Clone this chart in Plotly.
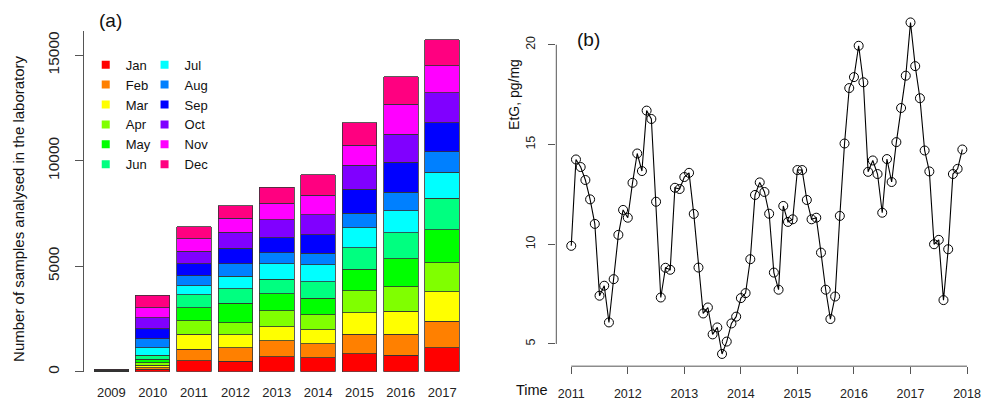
import plotly.graph_objects as go

# ---------------- data: panel (a) ----------------
years = ["2009", "2010", "2011", "2012", "2013", "2014", "2015", "2016", "2017"]
months = ["Jan", "Feb", "Mar", "Apr", "May", "Jun", "Jul", "Aug", "Sep", "Oct", "Nov", "Dec"]
month_colors = ["#FF0000", "#FF8000", "#FFFF00", "#80FF00", "#00FF00", "#00FF80",
                "#00FFFF", "#0080FF", "#0000FF", "#8000FF", "#FF00FF", "#FF0080"]

# monthly sample counts per year (Jan..Dec)
s2009 = [0, 0, 0, 0, 0, 15, 15, 15, 15, 15, 15, 15]
s2010 = [110, 80, 120, 110, 160, 200, 345, 443, 472, 519, 471, 595]
s2011 = [509, 552, 722, 632, 613, 614, 438, 472, 566, 599, 594, 552]
s2012 = [495, 628, 632, 566, 910, 708, 580, 585, 754, 755, 661, 594]
s2013 = [717, 755, 660, 745, 816, 694, 731, 519, 721, 835, 779, 764]
s2014 = [670, 660, 661, 707, 783, 774, 802, 547, 882, 957, 930, 957]
s2015 = [858, 911, 1028, 1047, 1014, 1019, 939, 698, 1142, 1132, 943, 1071]
s2016 = [778, 991, 1099, 1151, 1321, 1254, 1038, 868, 1415, 1335, 1429, 1293]
s2017 = [1132, 1264, 1387, 1368, 1585, 1481, 1226, 972, 1387, 1429, 1274, 1236]
samples_by_year = [s2009, s2010, s2011, s2012, s2013, s2014, s2015, s2016, s2017]
y_ticks_a = [0, 5000, 10000, 15000]

# ---------------- data: panel (b) ----------------
etg_2011 = [9.92, 14.25, 13.87, 13.22, 12.25, 11.02, 7.42, 7.92, 6.08, 8.25, 10.47, 11.72]
etg_2012 = [11.33, 13.08, 14.55, 13.67, 16.70, 16.28, 12.13, 7.33, 8.82, 8.72, 12.83, 12.77]
etg_2013 = [13.37, 13.58, 11.52, 8.83, 6.53, 6.83, 5.48, 5.83, 4.50, 5.12, 6.03, 6.37]
etg_2014 = [7.30, 7.55, 9.25, 12.47, 13.10, 12.62, 11.53, 8.58, 7.72, 11.92, 11.12, 11.25]
etg_2015 = [13.72, 13.72, 12.22, 11.25, 11.33, 9.58, 7.72, 6.25, 7.38, 11.42, 15.05, 17.83]
etg_2016 = [18.38, 19.95, 18.12, 13.63, 14.20, 13.52, 11.58, 14.27, 13.12, 15.12, 16.83, 18.45]
etg_2017 = [21.12, 18.93, 17.32, 14.70, 13.65, 10.00, 10.22, 7.20, 9.75, 13.52, 13.78, 14.75]
etg_years = [2011, 2012, 2013, 2014, 2015, 2016, 2017]
etg_by_year = [etg_2011, etg_2012, etg_2013, etg_2014, etg_2015, etg_2016, etg_2017]
x_ticks_b = [2011, 2012, 2013, 2014, 2015, 2016, 2017, 2018]
y_ticks_b = [5, 10, 15, 20]

etg_time = []
etg_vals = []
for yr, vals in zip(etg_years, etg_by_year):
    for m, v in enumerate(vals):
        etg_time.append(yr + m / 12.0)
        etg_vals.append(v)

SANS = "Liberation Sans, Arial, sans-serif"
W, H = 985, 403

def px(x):
    return x / W

def py(y):
    return (H - y) / H

fig = go.Figure()

for m, month in enumerate(months):
    fig.add_trace(go.Bar(
        x=years, y=[yr[m] for yr in samples_by_year], name=month,
        marker=dict(color=month_colors[m], line=dict(color="#333333", width=0.8)),
        width=0.836, showlegend=False, xaxis="x", yaxis="y"))

for m, month in enumerate(months):
    fig.add_trace(go.Scatter(
        x=[None], y=[None], mode="markers", name=month,
        marker=dict(symbol="square", size=8, color=month_colors[m]),
        legend="legend" if m < 6 else "legend2", xaxis="x", yaxis="y"))

fig.add_trace(go.Scatter(
    x=etg_time, y=etg_vals, mode="lines+markers",
    line=dict(color="black", width=1.1),
    marker=dict(symbol="circle-open", size=9, color="black", line=dict(width=1, color="black")),
    showlegend=False, xaxis="x2", yaxis="y2"))

axis_col = "#555555"
leg_font = dict(family=SANS, size=13, color="#111")
fig.update_layout(
    width=W, height=H, margin=dict(l=0, r=0, t=0, b=0),
    paper_bgcolor="white", plot_bgcolor="white",
    barmode="stack",
    font=dict(family=SANS, color="black"),
    xaxis=dict(domain=[px(84), px(470)], type="category", range=[-0.668, 8.639],
               showline=False, ticks="", showgrid=False, zeroline=False,
               tickfont=dict(family=SANS, size=13, color="#222"),
               ticklabelstandoff=11, anchor="y"),
    yaxis=dict(domain=[py(373.5), py(30.7)], range=[0, 16170],
               showline=True, linecolor=axis_col, linewidth=1,
               ticks="outside", ticklen=8, tickcolor=axis_col,
               tickvals=y_ticks_a, ticktext=[str(v) for v in y_ticks_a],
               tickangle=-90, tickfont=dict(family=SANS, size=15.5, color="#222"),
               ticklabelstandoff=10,
               showgrid=False, zeroline=False, anchor="x"),
    xaxis2=dict(domain=[px(558), px(981)], range=[2010.7355, 2018.194],
                tickvals=x_ticks_b, ticktext=[str(v) for v in x_ticks_b],
                ticks="outside", ticklen=7, tickcolor=axis_col,
                showline=False, showgrid=False, zeroline=False,
                tickfont=dict(family=SANS, size=12.5, color="#222"),
                ticklabeloverflow="allow",
                ticklabelstandoff=9, anchor="y2"),
    yaxis2=dict(domain=[py(368), py(9)], range=[3.887, 21.796],
                tickvals=y_ticks_b, ticktext=[str(v) for v in y_ticks_b],
                ticks="outside", ticklen=7, tickcolor=axis_col, tickangle=-90,
                showline=False, showgrid=False, zeroline=False,
                tickfont=dict(family=SANS, size=12.5, color="#222"),
                ticklabelstandoff=8, anchor="x2"),
    legend=dict(x=px(86), y=py(50), xanchor="left", yanchor="top",
                bgcolor="rgba(0,0,0,0)", font=leg_font,
                tracegroupgap=0, traceorder="normal"),
    legend2=dict(x=px(145), y=py(50), xanchor="left", yanchor="top",
                 bgcolor="rgba(0,0,0,0)", font=leg_font,
                 tracegroupgap=0, traceorder="normal"),
    shapes=[
        dict(type="line", xref="x2 domain", yref="y2", x0=0, x1=0, y0=5, y1=20,
             line=dict(color=axis_col, width=1)),
        dict(type="line", xref="x2", yref="y2 domain", x0=2011, x1=2018, y0=0, y1=0,
             line=dict(color=axis_col, width=1)),
    ],
    annotations=[
        dict(text="(a)", xref="paper", yref="paper", x=px(111), y=py(21),
             xanchor="center", yanchor="middle", showarrow=False,
             font=dict(family=SANS, size=19, color="#111")),
        dict(text="(b)", xref="paper", yref="paper", x=px(590), y=py(40),
             xanchor="center", yanchor="middle", showarrow=False,
             font=dict(family=SANS, size=19, color="#111")),
        dict(text="Number of samples analysed in the laboratory", xref="paper", yref="paper",
             x=px(19), y=py(210), xanchor="center", yanchor="middle", textangle=-90,
             showarrow=False, font=dict(family=SANS, size=15, color="#111")),
        dict(text="EtG, pg/mg", xref="paper", yref="paper",
             x=px(515), y=py(95), xanchor="center", yanchor="middle", textangle=-90,
             showarrow=False, font=dict(family=SANS, size=14, color="#111")),
        dict(text="Time", xref="paper", yref="paper",
             x=px(534), y=py(392), xanchor="center", yanchor="middle",
             showarrow=False, font=dict(family=SANS, size=14.5, color="#111")),
    ],
)

fig.write_html("out.html",
               config={"displayModeBar": False},
               post_script="document.body.style.margin='0';document.body.style.overflow='hidden';")
